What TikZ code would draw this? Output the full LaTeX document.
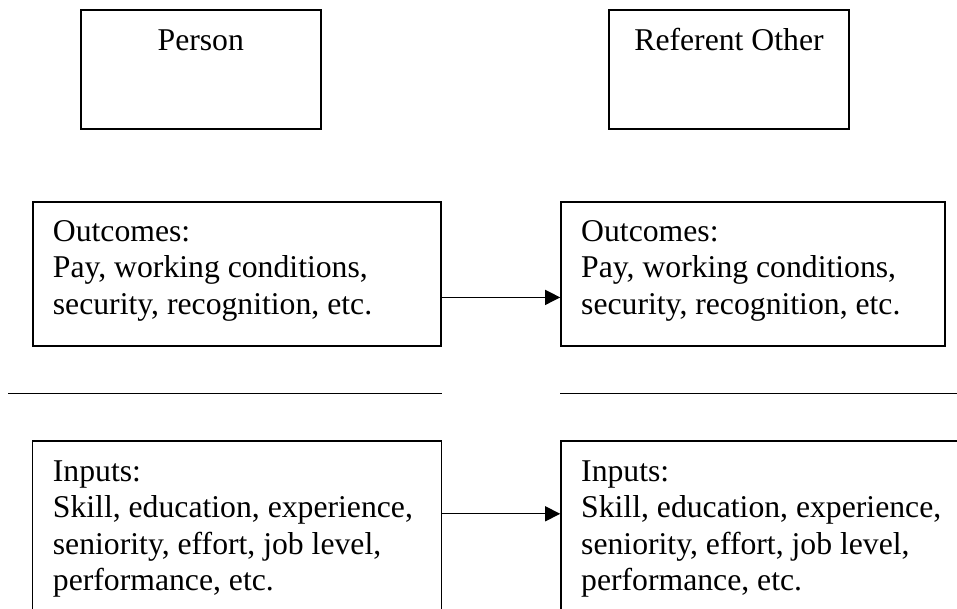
\documentclass[tikz,border=0pt]{standalone}
\usepackage{fontspec}
\setmainfont{Liberation Serif}
\usetikzlibrary{arrows.meta}
\begin{document}
\begin{tikzpicture}[x=1pt,y=-1pt,
  box/.style={draw=black,line width=1.6pt,rectangle,inner sep=0pt,minimum width=#1},
  label/.style={inner sep=0pt,font=\fontsize{31.7pt}{36.5pt}\selectfont},
  para/.style={inner sep=0pt,anchor=north west,align=left,font=\fontsize{31.7pt}{36.5pt}\selectfont},
  rule/.style={line width=1.4pt},
  conn/.style={line width=1.3pt,-{Triangle[length=15pt,width=15pt]}}]
\useasboundingbox (0,0) rectangle (957,608);
\clip (0,0) rectangle (957,608);
% top boxes
\node[box=239.7pt,minimum height=119.3pt] (person) at (200.85,69.35) {};
\node[box=240pt,minimum height=119.3pt] (ref) at (729,69.35) {};
\node[label,anchor=base] (tperson) at (200.8,50.5) {Person};
\node[label,anchor=base] (tref) at (729,50.5) {Referent Other};
% outcomes
\node[box=408pt,minimum height=144pt] (outL) at (236.7,273.7) {};
\node[box=384pt,minimum height=144pt] (outR) at (753,273.7) {};
\node[para] (toutL) at (52.7,215.45) {\strut Outcomes:\\Pay, working conditions,\\security, recognition, etc.};
\node[para] (toutR) at (581,215.45) {\strut Outcomes:\\Pay, working conditions,\\security, recognition, etc.};
% rules
\coordinate (r1a) at (8.3,393.3);
\coordinate (r1b) at (441.7,393.3);
\coordinate (r2a) at (560,393.3);
\coordinate (r2b) at (960,393.3);
\draw[rule] (r1a) -- (r1b);
\draw[rule] (r2a) -- (r2b);
% inputs
\node[box=409pt,minimum height=199pt] (inL) at (237,540.5) {};
\node[box=414pt,minimum height=199pt] (inR) at (768,540.5) {};
\node[para] (tinL) at (52.7,455.25) {\strut Inputs:\\Skill, education, experience,\\seniority, effort, job level,\\performance, etc.};
\node[para] (tinR) at (581,455.25) {\strut Inputs:\\Skill, education, experience,\\seniority, effort, job level,\\performance, etc.};
% connectors
\draw[conn] (outL.east |- 0,297.4) -- (outR.west |- 0,297.4);
\draw[conn] (inL.east |- 0,513.8) -- (inR.west |- 0,513.8);
\end{tikzpicture}
\end{document}
